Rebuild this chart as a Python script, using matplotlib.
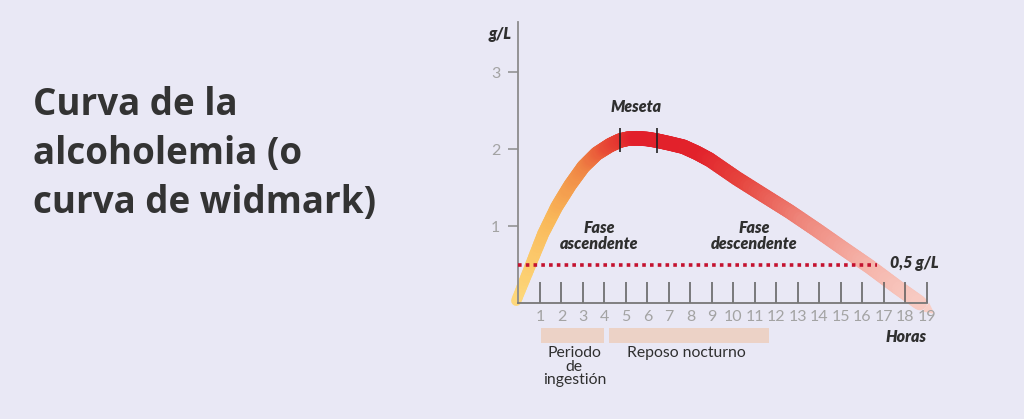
import numpy as np
import matplotlib
matplotlib.use('Agg')
import matplotlib.pyplot as plt
from matplotlib.collections import LineCollection
from matplotlib.colors import LinearSegmentedColormap

# curva de alcoholemia (horas, g/L)
horas = [-0.1, 0.53, 1.15, 1.78, 2.4, 3.02, 3.64, 4.26, 4.72, 5.1, 5.5, 6.0,
         6.43, 7.0, 7.67, 8.3, 8.9, 10.15, 11.4, 12.6, 13.87, 15.1, 16.35,
         17.6, 18.67]
gl = [0.03, 0.47, 0.9, 1.25, 1.53, 1.77, 1.94, 2.05, 2.11, 2.135, 2.14, 2.13,
      2.11, 2.075, 2.03, 1.95, 1.86, 1.62, 1.40, 1.19, 0.95, 0.71, 0.47,
      0.21, 0.0]

meseta = [4.72, 6.43]
limite = 0.5
horas_ticks = list(range(1, 20))
gl_ticks = [1, 2, 3]

periodos = ['Periodo\nde\ningestión', 'Reposo nocturno']
periodo_ini = [1.03, 4.2]
periodo_fin = [3.98, 11.65]
periodo_txt_x = [2.6, 7.8]

fondo = '#e9e8f5'
oscuro = '#2f2f2f'

fig = plt.figure(figsize=(10.24, 4.19), dpi=100, facecolor=fondo)
ax = fig.add_axes([0.4958, 0.0379, 0.4304, 0.9372])
ax.set_facecolor(fondo)
ax.set_xlim(-0.5, 20)
ax.set_ylim(-1.3, 3.8)
ax.set_axisbelow(False)

# curva con degradado (cada tramo recto se parte en trocitos para el color)
x = np.asarray(horas)
y = np.asarray(gl)
xs, ys = [], []
for i in range(len(x) - 1):
    t = np.linspace(0, 1, 10, endpoint=False)
    xs.extend(x[i] + (x[i + 1] - x[i]) * t)
    ys.extend(y[i] + (y[i + 1] - y[i]) * t)
xs.append(x[-1])
ys.append(y[-1])
xs = np.array(xs)
ys = np.array(ys)
pts = np.column_stack([xs, ys]).reshape(-1, 1, 2)
segs = np.concatenate([pts[:-1], pts[1:]], axis=1)
xm = (xs[:-1] + xs[1:]) / 2
cmap = LinearSegmentedColormap.from_list('alc', [
    (0.0, '#fdd77a'), (0.08, '#f9b95a'), (0.16, '#f08745'), (0.22, '#e84c36'),
    (0.29, '#e2202b'), (0.45, '#e2222b'), (0.56, '#e6463f'), (0.7, '#ee8479'),
    (0.86, '#f5b3a9'), (1.0, '#f8cec6')])
anchos = np.interp(xm, [0, 2, 4.5, 19], [7.5, 9.5, 10.5, 10.5])
lc = LineCollection(segs, cmap=cmap, linewidths=anchos, capstyle='round',
                    joinstyle='round', zorder=2)
lc.set_array(np.clip(xm / 19, 0, 1))
lc.set_clim(0, 1)
ax.add_collection(lc)
ax.annotate('', xy=(19.35, -0.14), xytext=(x[-2] + 0.4, y[-2] - 0.06),
            arrowprops=dict(arrowstyle='-|>', color='#f8cec6', lw=0,
                            mutation_scale=20, shrinkA=0, shrinkB=0),
            zorder=2)

# marcas de la meseta
ax.vlines(meseta, [1.96, 1.95], [2.27, 2.27], color='#222222', lw=1.2, zorder=4)

# limite 0,5 g/L
ax.plot([0, 16.7], [limite, limite], color='#c4122f', lw=2.6,
        linestyle=(0, (1, 1.15)), zorder=3)

# ejes
for s in ['top', 'right']:
    ax.spines[s].set_visible(False)
ax.spines['left'].set_position(('data', 0))
ax.spines['bottom'].set_position(('data', 0))
ax.spines['left'].set_bounds(0, 3.65)
ax.spines['bottom'].set_bounds(0, 19)
ax.spines['left'].set_color('#8c8c8c')
ax.spines['bottom'].set_color('#777777')
ax.spines['left'].set_linewidth(1.3)
ax.spines['bottom'].set_linewidth(1.3)
ax.spines['bottom'].set_zorder(5)

ax.set_xticks(horas_ticks)
ax.set_xticklabels([str(h) for h in horas_ticks], fontfamily='Lato', fontsize=11.5)
ax.tick_params(axis='x', direction='in', length=15, width=1.1, color='#5a5a5a',
               labelcolor='#a3a3a3', pad=5)
ax.set_yticks(gl_ticks)
ax.set_yticklabels([str(v) for v in gl_ticks], fontfamily='Lato', fontsize=11.5)
ax.tick_params(axis='y', direction='out', length=7, width=1.1, color='#8c8c8c',
               labelcolor='#a3a3a3', pad=6)

# textos del grafico
bi = dict(fontfamily='Lato', fontweight='heavy', fontstyle='italic',
          color=oscuro, fontsize=11.5)
ax.text(-0.3, 3.5, 'g/L', ha='right', va='center', **bi)
ax.text(5.45, 2.54, 'Meseta', ha='center', va='center', **bi)
ax.text(3.77, 0.87, 'Fase\nascendente', ha='center', va='center',
        linespacing=0.95, **bi)
ax.text(10.95, 0.87, 'Fase\ndescendente', ha='center', va='center',
        linespacing=0.95, **bi)
ax.text(17.28, 0.52, '0,5 g/L', ha='left', va='center', **bi)
ax.text(19.0, -0.44, 'Horas', ha='right', va='center', **bi)

# periodos
for nombre, a, b, tx in zip(periodos, periodo_ini, periodo_fin, periodo_txt_x):
    ax.barh(-0.42, b - a, left=a, height=0.19, color='#ecd2c6', zorder=1)
    ax.text(tx, -0.56, nombre, ha='center', va='top', fontsize=11.3,
            fontfamily='Lato', color=oscuro, linespacing=0.95)

# titulo
fig.text(0.032, 0.794, 'Curva de la\nalcoholemia (o\ncurva de widmark)',
         ha='left', va='top', fontsize=26.5, fontweight='bold',
         fontfamily='Open Sans', color='#333333', linespacing=1.37)

fig.savefig('out.png', dpi=100, facecolor=fondo)
